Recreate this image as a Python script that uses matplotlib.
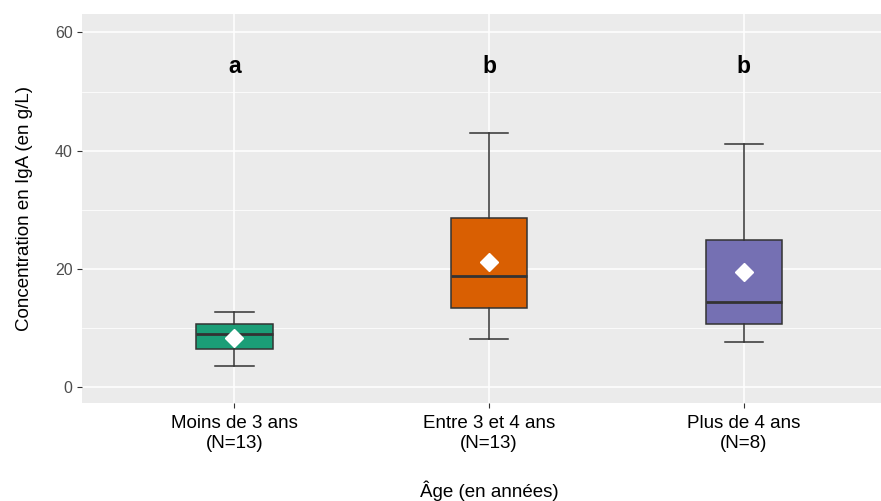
import matplotlib
matplotlib.use("Agg")
import matplotlib.pyplot as plt
from matplotlib.ticker import MultipleLocator

plt.rcParams['font.family'] = ['Liberation Sans', 'DejaVu Sans']

# data
groups = ["Moins de 3 ans\n(N=13)", "Entre 3 et 4 ans\n(N=13)", "Plus de 4 ans\n(N=8)"]
whis_lo = [3.6, 8.2, 7.6]
q1 = [6.5, 13.35, 10.7]
median = [9.05, 18.8, 14.4]
q3 = [10.7, 28.55, 24.9]
whis_hi = [12.7, 43.0, 41.05]
means = [8.3, 21.2, 19.45]
letters = ["a", "b", "b"]
colors = ["#1B9E77", "#D95F02", "#7570B3"]

W, H = 881, 501
fig = plt.figure(figsize=(W / 100, H / 100), dpi=100)
# panel runs past the right edge of the picture, as in the reference
left, top, bottom = 81.7, 14.0, 403.3
width = 3.2 * 254.65
ax = fig.add_axes([left / W, 1 - bottom / H, width / W, (bottom - top) / H])
ax.set_facecolor("#EBEBEB")

pos = [1, 2, 3]
stats = []
for i in range(3):
    stats.append(dict(med=median[i], q1=q1[i], q3=q3[i],
                      whislo=whis_lo[i], whishi=whis_hi[i],
                      mean=means[i], fliers=[]))

bp = ax.bxp(stats, positions=pos, widths=0.3, patch_artist=True,
            showmeans=True, showfliers=False,
            boxprops=dict(edgecolor="#333333", linewidth=1.1),
            medianprops=dict(color="#333333", linewidth=2.0),
            whiskerprops=dict(color="#333333", linewidth=1.1),
            capprops=dict(color="#333333", linewidth=1.1),
            capwidths=0.15,
            meanprops=dict(marker="D", markerfacecolor="white",
                           markeredgecolor="white", markersize=9.5))
for patch, c in zip(bp["boxes"], colors):
    patch.set_facecolor(c)
for art in bp["boxes"] + bp["whiskers"] + bp["caps"] + bp["medians"] + bp["means"]:
    art.set_zorder(3)

for x, l in zip(pos, letters):
    ax.text(x, 53.2, l, ha="center", va="baseline", fontsize=16.5,
            fontweight="bold", color="black")

ax.set_xlim(0.4, 3.6)
ax.set_ylim(-2.7, 63.1)
ax.set_xticks(pos)
ax.set_xticklabels(groups, fontsize=13.5, color="black", linespacing=1.2)
ax.yaxis.set_major_locator(MultipleLocator(20))
ax.yaxis.set_minor_locator(MultipleLocator(10))
ax.grid(which="major", color="white", linewidth=1.1, zorder=0)
ax.grid(which="minor", axis="y", color="white", linewidth=0.55, zorder=0)
ax.set_axisbelow(True)
for s in ax.spines.values():
    s.set_visible(False)
ax.tick_params(axis="both", which="major", length=3.5, width=0.8,
               color="#333333", pad=3)
ax.tick_params(axis="x", which="major", pad=5)
ax.tick_params(axis="y", which="major", labelsize=11.5, labelcolor="#4D4D4D")
ax.tick_params(which="minor", length=0)

ax.set_ylabel("Concentration en IgA (en g/L)", fontsize=13.5, labelpad=16)
ax.set_xlabel("Âge (en années)", fontsize=13.5, labelpad=21)

fig.savefig("out.png", dpi=100)
